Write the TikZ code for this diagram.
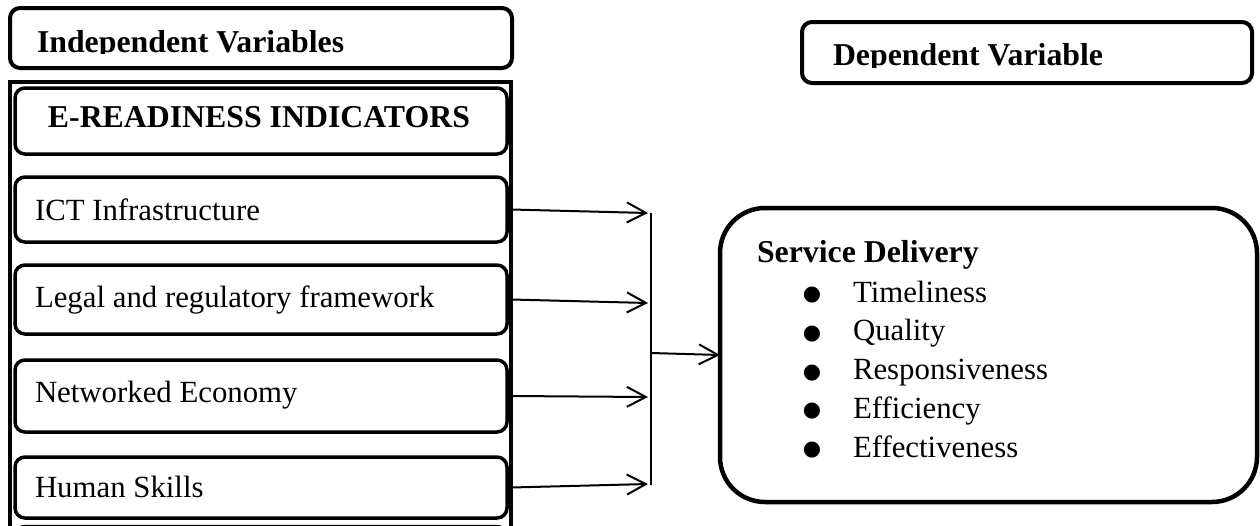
\documentclass[tikz,border=0pt]{standalone}
\usepackage{fontspec}
\setmainfont{Liberation Serif}
\newfontfamily\bulletfont{DejaVu Sans}
\usetikzlibrary{arrows.meta}
\begin{document}
\begin{tikzpicture}[x=1pt,y=-1pt,
  txt/.style={inner sep=0pt, outer sep=0pt, font=\fontsize{30.8}{36}\selectfont},
  btxt/.style={inner sep=0pt, outer sep=0pt, font=\fontsize{31.8}{36}\selectfont\bfseries},
  bul/.style={inner sep=0pt, outer sep=0pt, font=\bulletfont\fontsize{21}{21}\selectfont},
  hdrbox/.style={draw, line width=4pt, rounded corners=10pt, inner sep=0pt, outer sep=0pt},
  itembox/.style={draw, line width=3.5pt, rounded corners=10pt, inner sep=0pt, outer sep=0pt, minimum width=492pt},
  panelbox/.style={draw, line width=4.5pt, inner sep=0pt, outer sep=0pt},
  sdbox/.style={draw, line width=4.5pt, rounded corners=45pt, inner sep=0pt, outer sep=0pt},
  arr/.style={line width=2pt, -{Straight Barb[length=19pt,width=20pt]}},
  barline/.style={line width=2pt},
]
\useasboundingbox (0,0) rectangle (1260,525);
\clip (0,0) rectangle (1260,525);

% Independent header
\node[hdrbox, minimum width=502pt, minimum height=60pt] (indep) at (261,38) {};
\begin{scope}
  \clip (0,0) rectangle (700,53.5);
  \node[btxt, anchor=base west] (indeptxt) at (37,52) {Independent Variables};
\end{scope}

% Panel of indicators
\node[panelbox, minimum width=501pt, minimum height=478pt] (panel) at (260.5,321) {};
\node[itembox, minimum height=66pt] (eready) at (261,121) {};
\node[itembox, minimum height=65pt] (ict) at (261,209.5) {};
\node[itembox, minimum height=69pt] (legal) at (261,299.5) {};
\node[itembox, minimum height=72pt] (net) at (261,396) {};
\node[itembox, minimum height=61pt] (hum) at (261,487.5) {};
\node[itembox, minimum height=40pt] (nextbox) at (261,546.5) {};

\node[btxt, anchor=base] (ereadytxt) at (259,127) {E-READINESS INDICATORS};
\node[txt, anchor=base west] (icttxt) at (35,220) {ICT Infrastructure};
\node[txt, anchor=base west] (legaltxt) at (35,307) {Legal and regulatory framework};
\node[txt, anchor=base west] (nettxt) at (35,402) {Networked Economy};
\node[txt, anchor=base west] (humtxt) at (35,497) {Human Skills};

% Dependent header
\node[hdrbox, minimum width=450pt, minimum height=61pt] (dep) at (1027,52.5) {};
\begin{scope}
  \clip (700,0) rectangle (1260,67);
  \node[btxt, anchor=base west] (deptxt) at (833,65.5) {Dependent Variable};
\end{scope}

% Service delivery
\node[sdbox, minimum width=537pt, minimum height=294pt] (sd) at (988.5,355) {};
\node[btxt, anchor=base west] (sdtxt) at (757,262) {Service Delivery};
\foreach \y/\t/\n in {302/Timeliness/i1, 340.75/Quality/i2, 379.5/Responsiveness/i3, 418.25/Efficiency/i4, 457/Effectiveness/i5}{
  \node[bul, anchor=base] (\n b) at (812,\y-1.5) {●};
  \node[txt, anchor=base west] (\n) at (853,\y) {\t};
}

% Connectors
\coordinate (e1) at (648,213);
\coordinate (e2) at (648,303);
\coordinate (e3) at (648,397);
\coordinate (e4) at (648,484);
\coordinate (bartop) at (651,213);
\coordinate (barbot) at (651,485);
\coordinate (barmid) at (651,353);

\draw[arr] (panel.east |- ict.center) -- (e1);
\draw[arr] (panel.east |- legal.center) -- (e2);
\draw[arr] (panel.east |- net.center) -- (e3);
\draw[arr] (panel.east |- hum.center) -- (e4);
\draw[barline] (bartop) -- (barbot);
\draw[arr] (barmid) -- (sd.west);
\end{tikzpicture}
\end{document}
